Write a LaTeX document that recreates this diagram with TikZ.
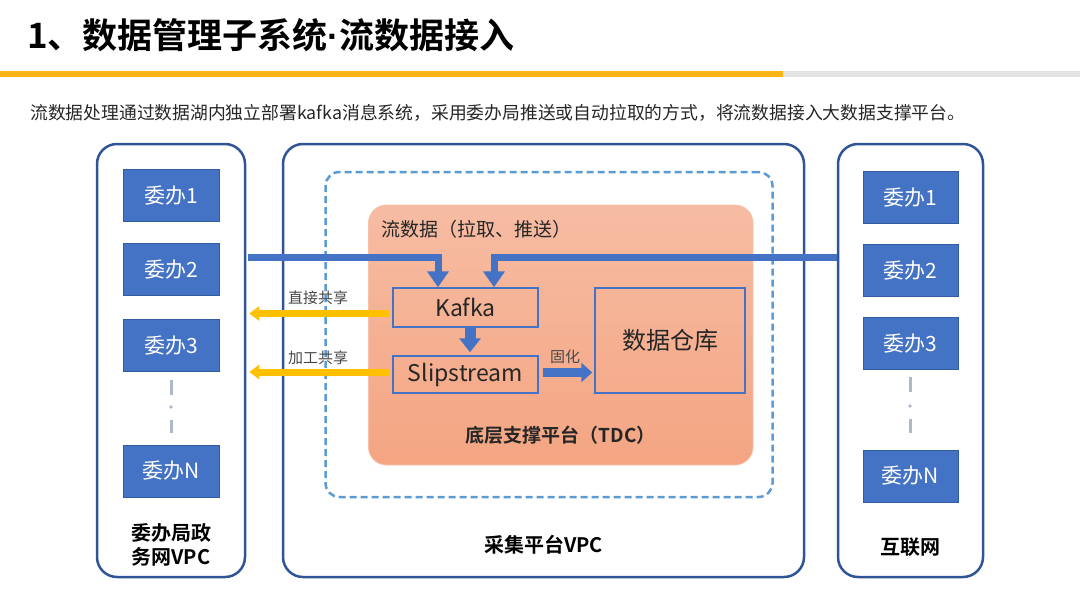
\documentclass[tikz,border=0pt]{standalone}
\usepackage{fontspec}
\setmainfont{Noto Sans CJK SC}[BoldFont={Noto Sans CJK SC Bold}]
\newfontfamily\latinbold{Liberation Sans}
\usetikzlibrary{arrows.meta}
\definecolor{dblue}{HTML}{2F5597}
\definecolor{iblue}{HTML}{4472C4}
\definecolor{lblue}{HTML}{5B9BD5}
\definecolor{barorange}{HTML}{FDB515}
\definecolor{bargray}{HTML}{E3E3E3}
\definecolor{yarr}{HTML}{FFC000}
\definecolor{otop}{HTML}{F6BCA3}
\definecolor{obot}{HTML}{F4A582}
\definecolor{dotc}{HTML}{ADB9CA}
\definecolor{txt}{HTML}{262626}
\newcommand{\fs}[1]{\fontsize{#1}{#1}\selectfont}
\begin{document}
\begin{tikzpicture}[x=1pt,y=-1pt,
  outerbox/.style={draw=dblue,line width=2.5pt,rounded corners=20pt,inner sep=0pt},
  item/.style={draw=dblue!80!iblue,line width=0.6pt,fill=iblue,text=white,minimum width=96pt,minimum height=52pt,inner sep=0pt,font=\fs{21}},
  inbox/.style={draw=iblue,line width=1.5pt,inner sep=0pt,text=txt},
  barrow/.style={draw=iblue,line width=7pt,-{Triangle[width=21pt,length=16pt]}},
  sarrow/.style={draw=iblue,line width=10pt,-{Triangle[width=21pt,length=14pt]}},
  yarrow/.style={draw=yarr,line width=7pt,-{Triangle[width=14pt,length=10pt]}},
  dotline/.style={draw=dotc,line width=3pt},
  lbl/.style={font=\fs{15},text=txt!85!white,inner sep=0pt},
  blab/.style={font=\bfseries\fs{20},text=black,inner sep=0pt}]
\useasboundingbox (0,0) rectangle (1080,608);
% title
\node[anchor=west,inner sep=0pt,font=\bfseries\fs{35}] (title) at (27,35) {1、数据管理子系统{\latinbold\bfseries ·}流数据接入};
\fill[barorange] (0,71) rectangle (783,77);
\fill[bargray] (783,71) rectangle (1080,77);
\node[anchor=west,inner sep=0pt,font=\fs{17.8},text=txt] (sub) at (30,113) {流数据处理通过数据湖内独立部署kafka消息系统，采用委办局推送或自动拉取的方式，将流数据接入大数据支撑平台。};
% outer boxes
\node[outerbox,minimum width=148pt,minimum height=433pt] (lbox) at (171,360.5) {};
\node[outerbox,minimum width=521pt,minimum height=433pt] (mbox) at (543.5,360.5) {};
\node[outerbox,minimum width=145pt,minimum height=433pt] (rbox) at (910.5,360.5) {};
% dashed box
\node[draw=lblue,line width=2.5pt,dash pattern=on 7pt off 4pt,rounded corners=14pt,minimum width=447pt,minimum height=325pt,inner sep=0pt] (dbox) at (549,334.5) {};
% orange platform
\node[rounded corners=18pt,top color=otop,bottom color=obot,draw=obot!70!white,line width=0.8pt,minimum width=384.5pt,minimum height=260pt,inner sep=0pt] (obox) at (560.75,335) {};
\node[anchor=west,inner sep=0pt,font=\fs{19},text=txt] (flow) at (381,229) {流数据（拉取、推送）};
\node[inner sep=0pt,font=\bfseries\fs{19},text=txt] (tdc) at (560.75,435) {底层支撑平台（TDC）};
% inner boxes
\node[inbox,minimum width=145pt,minimum height=39pt,font=\fs{23}] (kafka) at (465.5,307.5) {Kafka};
\node[inbox,minimum width=145pt,minimum height=37pt,font=\fs{23}] (slip) at (465.5,374.5) {Slipstream};
\node[inbox,minimum width=150pt,minimum height=105pt,font=\fs{24}] (dw) at (670,340.5) {数据仓库};
% left items
\node[item] (l1) at (171,195.5) {委办1};
\node[item] (l2) at (171,269.5) {委办2};
\node[item] (l3) at (171,345.5) {委办3};
\node[item] (lN) at (171,471) {委办N};
\draw[dotline] (171,380) -- (171,395);
\fill[dotc] (171,407) circle (1.9pt);
\draw[dotline] (171,420) -- (171,433);
\node[blab,align=center] (llab) at (171,545) {委办局政\\[4pt]务网VPC};
% right items
\node[item,minimum width=95pt] (r1) at (910.5,197.5) {委办1};
\node[item,minimum width=95pt] (r2) at (910.5,270.5) {委办2};
\node[item,minimum width=95pt] (r3) at (910.5,343.5) {委办3};
\node[item,minimum width=95pt] (rN) at (910.5,476) {委办N};
\draw[dotline] (910,377) -- (910,392);
\fill[dotc] (910,406) circle (1.9pt);
\draw[dotline] (910,419) -- (910,433);
\node[blab] (rlab) at (910.5,547) {互联网};
\node[blab] (mlab) at (543.5,545) {采集平台VPC};
% blue flows into kafka
\coordinate (ls) at (248,257.5);
\draw[barrow] (ls) -| ([xshift=-27.5pt]kafka.north);
\draw[barrow] (rbox.west |- ls) -| ([xshift=28.5pt]kafka.north);
% kafka -> slipstream
\draw[sarrow,line width=11pt,shorten >=3pt] ([xshift=4.5pt]kafka.south) -- ([xshift=4.5pt]slip.north);
% slipstream -> dw
\coordinate (g1) at ([xshift=4pt,yshift=2pt]slip.east);
\draw[sarrow,line width=9pt,-{Triangle[width=19pt,length=11pt]},shorten >=2pt] (g1) -- (g1 -| dw.west);
\node[lbl] (gh) at (565,357) {固化};
% yellow sharing arrows
\coordinate (y1) at ([xshift=-3pt,yshift=-6pt]kafka.west);
\coordinate (y2) at ([xshift=-3pt,yshift=2.5pt]slip.west);
\draw[yarrow,shorten >=3pt] (y1) -- (y1 -| lbox.east);
\draw[yarrow,shorten >=3pt] (y2) -- (y2 -| lbox.east);
\node[lbl,anchor=west] (zj) at (288,298) {直接共享};
\node[lbl,anchor=west] (jg) at (288,358) {加工共享};
\end{tikzpicture}
\end{document}
